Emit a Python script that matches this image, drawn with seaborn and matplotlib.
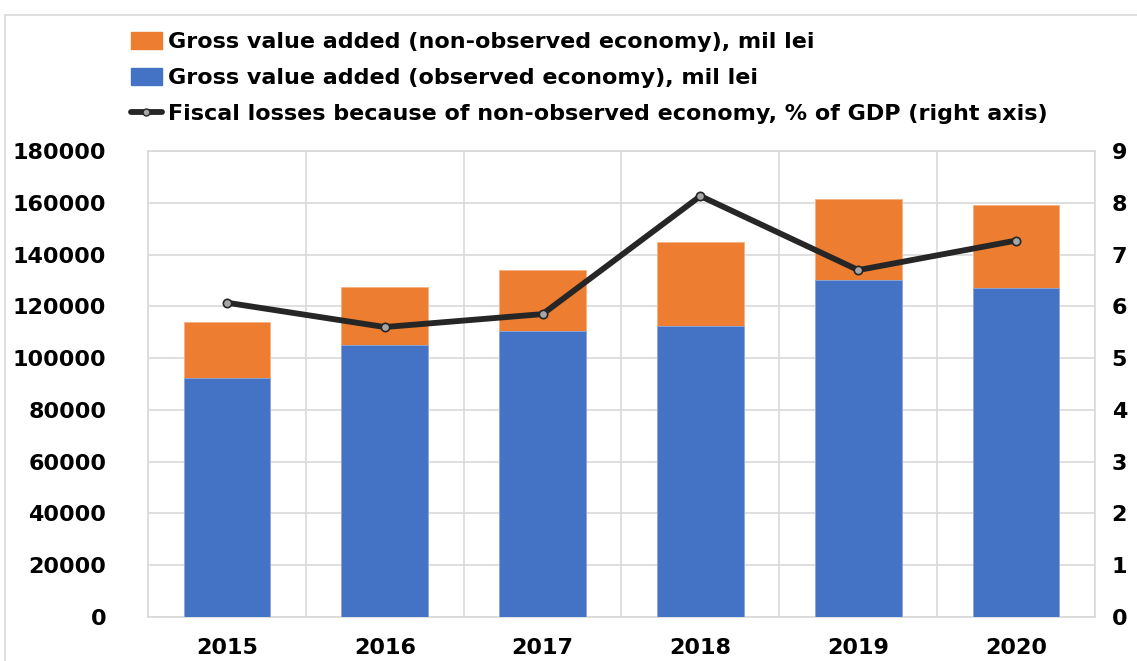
import numpy as np
import pandas as pd
import matplotlib
matplotlib.use("Agg")
import matplotlib.pyplot as plt
import seaborn as sns
from matplotlib.patches import Patch, Rectangle
from matplotlib.lines import Line2D
from matplotlib.ticker import FixedLocator

years = ["2015", "2016", "2017", "2018", "2019", "2020"]
observed = [92500, 105000, 110500, 112500, 130300, 127000]
non_observed = [21500, 22300, 23500, 32300, 31300, 32200]
fiscal_losses = [6.07, 5.6, 5.85, 8.13, 6.7, 7.27]

left_ticks = [0, 20000, 40000, 60000, 80000, 100000, 120000, 140000, 160000, 180000]
right_ticks = [0, 1, 2, 3, 4, 5, 6, 7, 8, 9]

lbl_non = "Gross value added (non-observed economy), mil lei"
lbl_obs = "Gross value added (observed economy), mil lei"
lbl_fis = "Fiscal losses because of non-observed economy, % of GDP (right axis)"

C_BLUE = "#4472C4"
C_ORANGE = "#ED7D31"
C_GRID = "#D9D9D9"

sns.set_theme(style="white")
plt.rcParams["font.family"] = ["DejaVu Sans"]
plt.rcParams["text.color"] = "black"

df = pd.DataFrame({"year": years, "observed": observed,
                   "total": np.array(observed) + np.array(non_observed),
                   "fiscal": fiscal_losses})

fig = plt.figure(figsize=(11.37, 6.61), dpi=100)
ax = fig.add_axes([148/1137, 44/661, (1095-148)/1137, (617-151)/661])

sns.barplot(data=df, x="year", y="total", color=C_ORANGE, saturation=1,
            width=0.55, ax=ax, edgecolor="#F4B183", linewidth=0.6, zorder=2)
sns.barplot(data=df, x="year", y="observed", color=C_BLUE, saturation=1,
            width=0.55, ax=ax, edgecolor="#8FAADC", linewidth=0.6, zorder=3)

ax.set_ylim(0, 180000)
ax.set_xlim(-0.5, len(years) - 0.5)
ax.set_yticks(left_ticks)
ax.set_yticklabels([str(v) for v in left_ticks], fontsize=16, fontweight="bold", color="black")
ax.set_xticklabels(years, fontsize=16, fontweight="bold", color="black")
ax.set_xlabel("")
ax.set_ylabel("")
ax.tick_params(axis="y", length=0, pad=30)
ax.tick_params(axis="x", length=0, pad=15)
ax.xaxis.set_minor_locator(FixedLocator(np.arange(-0.5, len(years), 1.0)))
ax.grid(axis="y", which="major", color=C_GRID, linewidth=1.2, zorder=0)
ax.grid(axis="x", which="minor", color=C_GRID, linewidth=1.2, zorder=0)
ax.tick_params(axis="x", which="minor", length=0)
ax.set_axisbelow(True)
for s in ax.spines.values():
    s.set_color(C_GRID)
    s.set_linewidth(1.2)

ax2 = ax.twinx()
sns.lineplot(x=np.arange(len(years)), y=fiscal_losses, ax=ax2, color="#262626",
             linewidth=4.2, marker="o", markersize=6, markerfacecolor="#A6A6A6",
             markeredgecolor="#262626", markeredgewidth=1.2, zorder=5)
ax2.set_ylim(0, 9)
ax2.set_yticks(right_ticks)
ax2.set_yticklabels([str(v) for v in right_ticks], fontsize=16, fontweight="bold", color="black")
ax2.tick_params(axis="y", length=0, pad=12)
ax2.set_ylabel("")
for s in ax2.spines.values():
    s.set_visible(False)

handles = [Patch(facecolor=C_ORANGE, edgecolor=C_ORANGE),
           Patch(facecolor=C_BLUE, edgecolor=C_BLUE),
           Line2D([0], [0], color="#262626", linewidth=4.2, marker="o", markersize=5,
                  markerfacecolor="#A6A6A6", markeredgecolor="#262626")]
leg = fig.legend(handles, [lbl_non, lbl_obs, lbl_fis], loc="upper left",
                 bbox_to_anchor=(122/1137, 1 - 23/661), frameon=False,
                 prop={"weight": "bold", "size": 16}, handlelength=1.4,
                 handleheight=0.8, handletextpad=0.25, labelspacing=0.7,
                 borderaxespad=0, labelcolor="black")

fig.patches.append(Rectangle((5/1137, -0.1), 1.2, 1 - 15/661 + 0.1, transform=fig.transFigure,
                             fill=False, edgecolor=C_GRID, linewidth=1.2))

fig.savefig("out.png", dpi=100)
